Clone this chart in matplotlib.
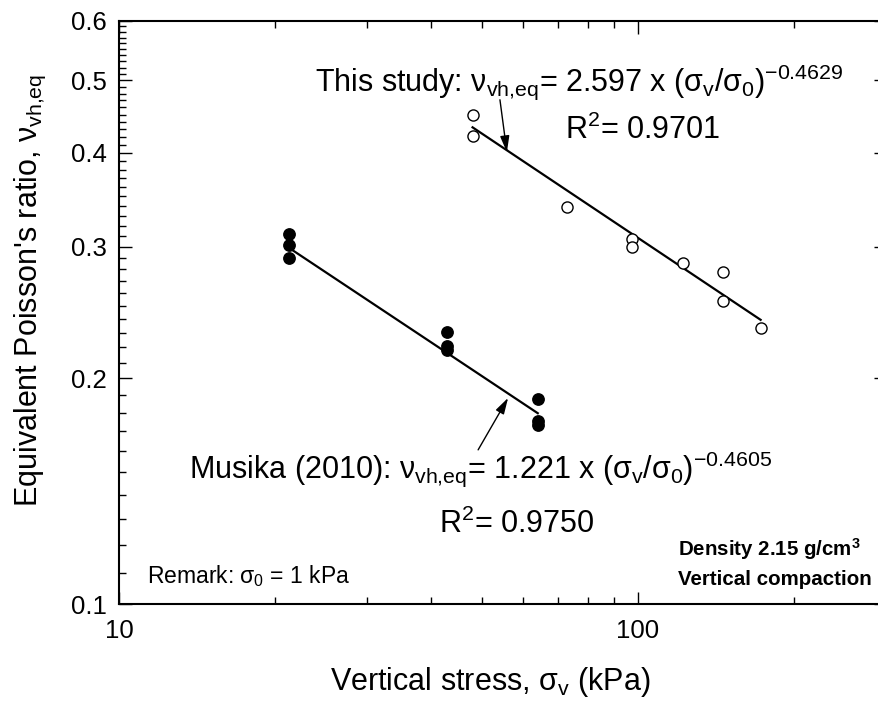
import matplotlib
matplotlib.use("Agg")
import matplotlib.pyplot as plt
from matplotlib.ticker import FixedLocator, MultipleLocator, NullFormatter, FuncFormatter

plt.rcParams['font.family'] = ['Liberation Sans', 'DejaVu Sans']
plt.rcParams['mathtext.fontset'] = 'custom'
plt.rcParams['mathtext.rm'] = 'Liberation Sans'
plt.rcParams['mathtext.it'] = 'Liberation Sans'
plt.rcParams['mathtext.bf'] = 'Liberation Sans:bold'

# Musika (2010) - filled circles
musika_x = [21.3, 21.3, 21.3, 42.9, 42.9, 42.9, 64.1, 64.1, 64.1]
musika_y = [0.312, 0.3016, 0.2897, 0.2308, 0.2211, 0.2183, 0.1878, 0.1755, 0.1734]

# This study - open circles
study_x = [48.0, 48.0, 73.1, 97.2, 97.2, 122.3, 146.0, 146.0, 172.3]
study_y = [0.4497, 0.422, 0.339, 0.3068, 0.2999, 0.285, 0.2773, 0.2539, 0.2334]

# power-law fits  nu = a * (sigma/sigma0)^b
musika_fit = (1.221, -0.4605)
study_fit = (2.597, -0.4629)

y_ticks = [0.1, 0.2, 0.3, 0.4, 0.5, 0.6]
x_ticks = [10, 100]

W, H = 879, 707
fig = plt.figure(figsize=(W / 100, H / 100), dpi=100)

# axes placed in pixels (left, top of spine etc.)
left, top, bottom = 119, 21, 604
decade = 519.0
width = decade * 1.4771
ax = fig.add_axes([left / W, (H - bottom) / H, width / W, (bottom - top) / H])
ax.set_xscale('log')
ax.set_yscale('log')
ax.set_xlim(10, 300)
ax.set_ylim(0.1, 0.6)


def fit_line(xs, fit):
    a, b = fit
    x0, x1 = min(xs), max(xs)
    return [x0, x1], [a * x0 ** b, a * x1 ** b]


fx, fy = fit_line(musika_x, musika_fit)
ax.plot(fx, fy, color='black', lw=1.6, zorder=2)
fx, fy = fit_line(study_x, study_fit)
ax.plot(fx, fy, color='black', lw=1.6, zorder=2)

ax.plot(musika_x, musika_y, 'o', color='black', ms=8.2, zorder=3)
ax.plot(study_x, study_y, 'o', mfc='white', mec='black', mew=1.0, ms=8.0, zorder=3)

# ticks
ax.yaxis.set_major_locator(FixedLocator(y_ticks))
ax.yaxis.set_minor_locator(MultipleLocator(0.01))
ax.yaxis.set_major_formatter(FuncFormatter(lambda v, p: f"{v:.1f}"))
ax.yaxis.set_minor_formatter(NullFormatter())
ax.xaxis.set_major_locator(FixedLocator(x_ticks))
ax.xaxis.set_minor_locator(FixedLocator([20, 30, 40, 50, 60, 70, 80, 90, 200, 300]))
ax.xaxis.set_major_formatter(FuncFormatter(lambda v, p: f"{v:g}"))
ax.xaxis.set_minor_formatter(NullFormatter())
ax.tick_params(which='both', direction='in', top=True, right=True, width=1.0)
ax.tick_params(which='major', length=9, labelsize=18.5)
ax.tick_params(axis='y', which='major', pad=9)
ax.tick_params(axis='x', which='major', pad=11)
ax.tick_params(which='minor', length=5)
for s in ax.spines.values():
    s.set_linewidth(1.5)


def px(x, y):
    return x / W, 1 - y / H


# axis labels
fig.text(*px(490, 690), r"Vertical stress, $\sigma_v$ (kPa)", fontsize=22,
         ha='center', va='baseline')
fig.text(*px(30, 290), r"Equivalent Poisson's ratio, $\nu_{vh{,}eq}$", fontsize=22,
         ha='center', va='center', rotation=90, rotation_mode='anchor')

# annotations
fig.text(*px(315, 91), r"This study: $\nu_{vh{,}eq}$= 2.597 x $(\sigma_v/\sigma_0)^{-0.4629}$",
         fontsize=22, va='baseline')
fig.text(*px(565, 139), r"R$^2$= 0.9701", fontsize=22, va='baseline')
fig.text(*px(189, 478), r"Musika (2010): $\nu_{vh{,}eq}$= 1.221 x $(\sigma_v/\sigma_0)^{-0.4605}$",
         fontsize=22, va='baseline')
fig.text(*px(439, 533), r"R$^2$= 0.9750", fontsize=22, va='baseline')
fig.text(*px(147, 583), r"Remark: $\sigma_0$ = 1 kPa", fontsize=16.5, va='baseline')
fig.text(*px(678, 556), r"Density 2.15 g/cm$^\mathbf{3}$", fontsize=14.8,
         fontweight='bold', va='baseline')
fig.text(*px(678, 585), "Vertical compaction", fontsize=14.8, fontweight='bold',
         va='baseline')

arrow = dict(arrowstyle='-|>,head_length=0.7,head_width=0.2', color='black',
             lw=1.0, shrinkA=0, shrinkB=0, mutation_scale=14)
ax.annotate('', xy=(55.9, 0.401), xytext=(54.2, 0.471), arrowprops=arrow)
ax.annotate('', xy=(56.2, 0.1884), xytext=(49.2, 0.1606), arrowprops=arrow)

fig.savefig('out.png', dpi=100)
